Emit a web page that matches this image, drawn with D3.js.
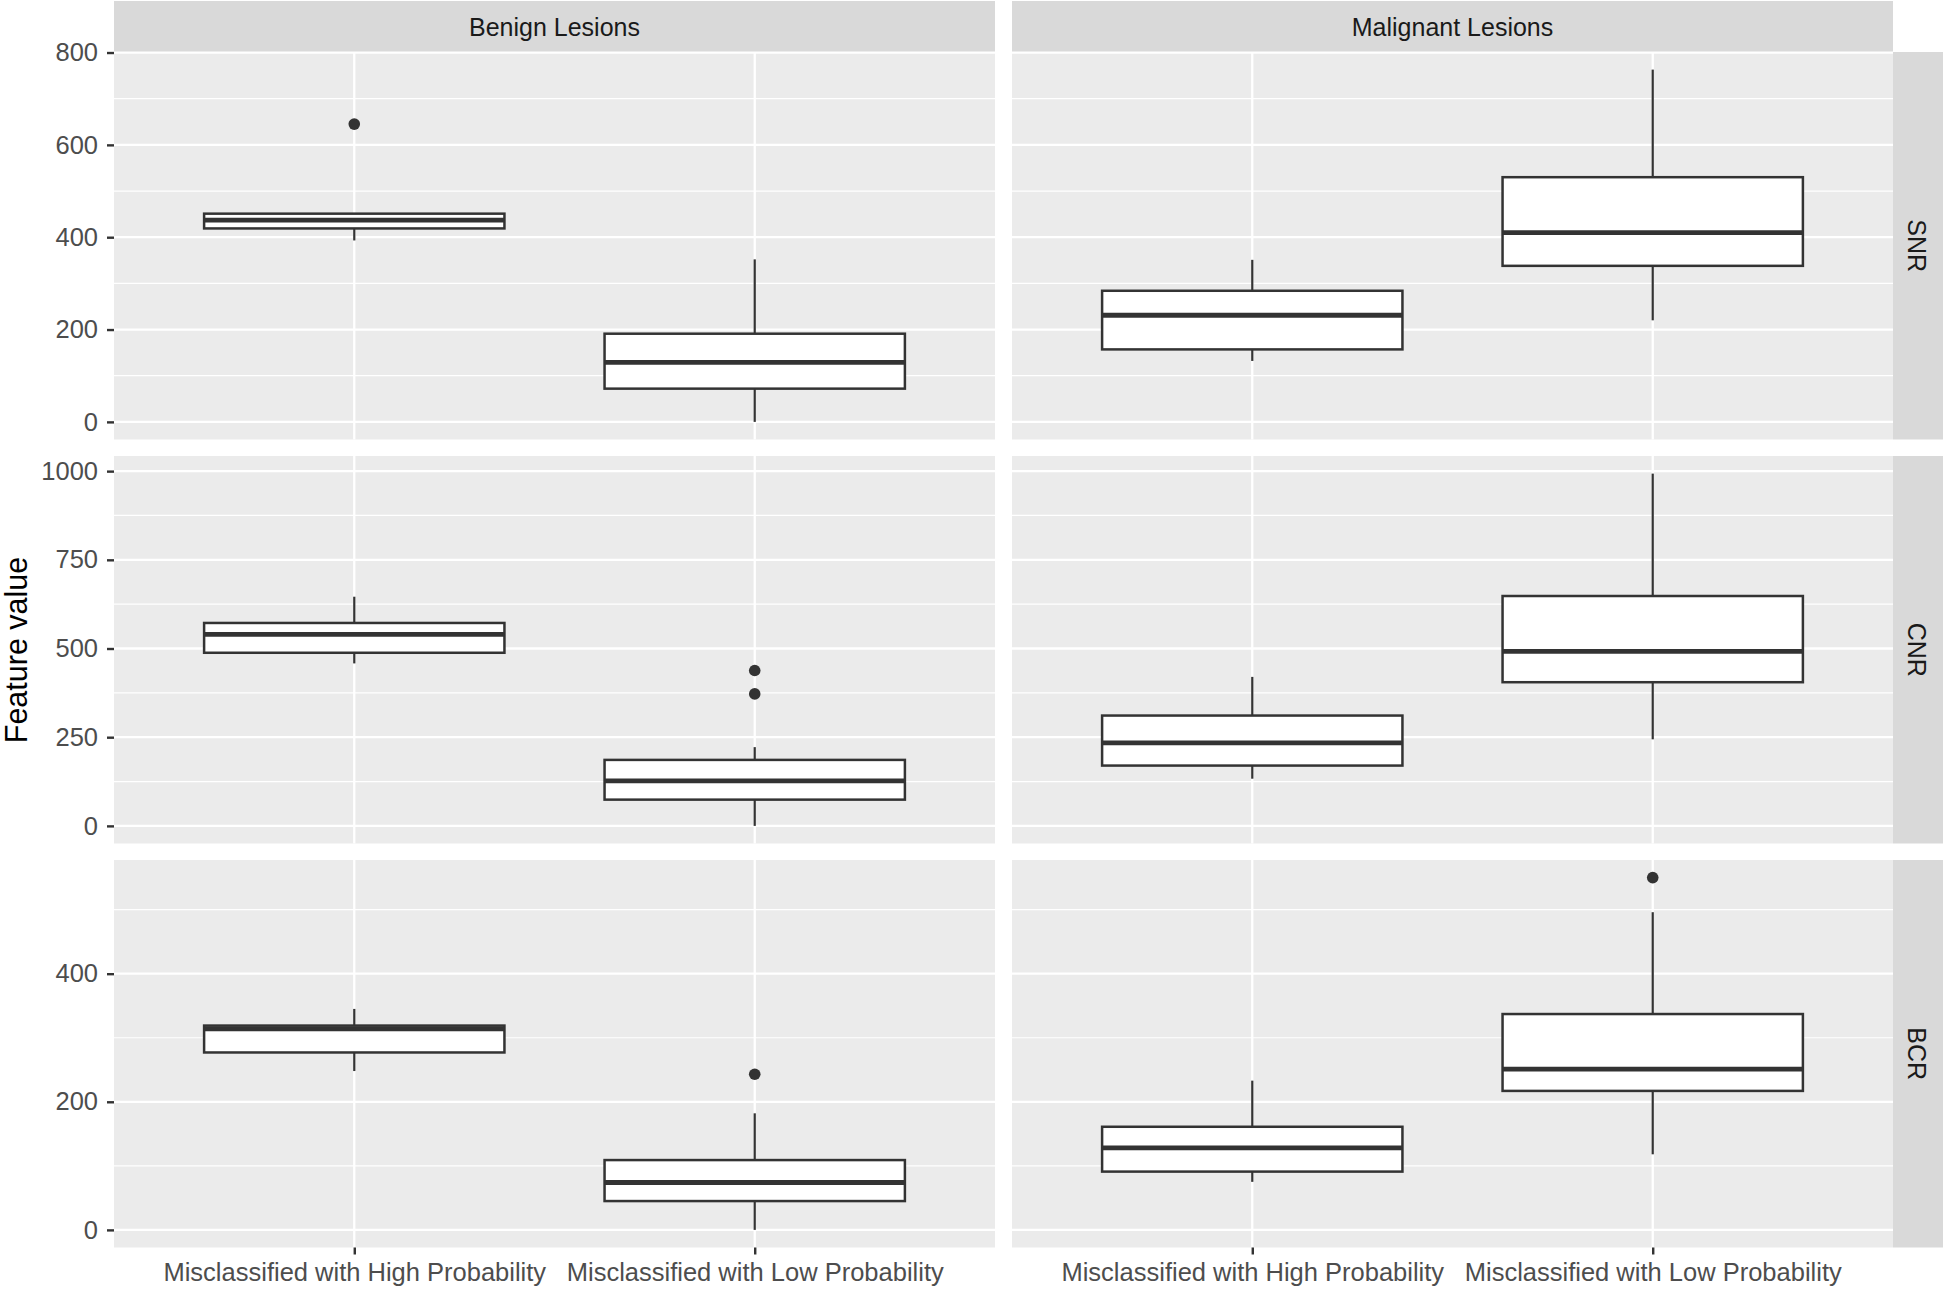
<!DOCTYPE html>
<html lang="en">
<head>
    <meta charset="UTF-8">
    <title>Feature value boxplots</title>
    <script src="https://d3js.org/d3.v7.min.js"></script>
    <style>
        body {
            margin: 0;
            background: #ffffff;
            font-family: "Liberation Sans", Arial, sans-serif;
        }
        .grid-major { stroke: #ffffff; stroke-width: 2.3; }
        .grid-minor { stroke: #ffffff; stroke-width: 1.2; }
        .axis path { display: none; }
        .axis line { stroke: #333333; stroke-width: 2.4; }
        .axis text { fill: #4d4d4d; font-size: 25.5px; font-family: "Liberation Sans", Arial, sans-serif; }
        .strip { fill: #d9d9d9; }
        .strip-text { fill: #1a1a1a; font-size: 25px; }
    </style>
</head>
<body>
    <div id="chart"></div>

    <script>
        // facets
        const columns = ["Benign Lesions", "Malignant Lesions"];
        const features = ["SNR", "CNR", "BCR"];
        const groups = ["Misclassified with High Probability", "Misclassified with Low Probability"];

        // [lower whisker, q1, median, q3, upper whisker]
        // order: benign-high, benign-low, malignant-high, malignant-low
        const snrBox = [
            [393, 419, 437, 451, 451],
            [0, 72, 129, 191, 352],
            [132, 157, 231, 284, 351],
            [220, 338, 410, 530, 763]
        ];
        const snrOutliers = [[645], [], [], []];

        const cnrBox = [
            [458, 488, 540, 572, 646],
            [0, 74, 127, 186, 222],
            [133, 170, 234, 311, 420],
            [244, 405, 492, 648, 993]
        ];
        const cnrOutliers = [[], [438, 372], [], []];

        const bcrBox = [
            [248, 277, 314, 319, 345],
            [0, 45, 74, 109, 182],
            [75, 91, 128, 161, 233],
            [118, 217, 251, 337, 496]
        ];
        const bcrOutliers = [[], [243], [], [550]];

        const boxes = [snrBox, cnrBox, bcrBox];
        const outliers = [snrOutliers, cnrOutliers, bcrOutliers];
        const yTicks = [[0, 200, 400, 600, 800], [0, 250, 500, 750, 1000], [0, 200, 400]];

        const width = 1944, height = 1290;
        const panelX = [114, 1012];
        const panelW = 881;
        const panelTop = 52, panelH = 387.5, rowGap = 16.5;
        const stripH = 51, stripW = 50;

        const svg = d3.select("#chart").append("svg")
            .attr("width", width)
            .attr("height", height);

        // y axis title
        svg.append("text")
            .attr("transform", "translate(27,650) rotate(-90)")
            .attr("text-anchor", "middle")
            .style("font-size", "30.5px")
            .style("fill", "#000")
            .text("Feature value");

        // column strips
        columns.forEach((c, ci) => {
            svg.append("rect").attr("class", "strip")
                .attr("x", panelX[ci]).attr("y", 1)
                .attr("width", panelW).attr("height", stripH);
            svg.append("text").attr("class", "strip-text")
                .attr("x", panelX[ci] + panelW / 2).attr("y", 36)
                .attr("text-anchor", "middle")
                .text(c);
        });

        features.forEach((f, ri) => {
            const top = panelTop + ri * (panelH + rowGap);
            const bottom = top + panelH;

            // free y scale per row, ggplot-like 5% expansion
            const vals = [];
            boxes[ri].forEach(b => vals.push(...b));
            outliers[ri].forEach(o => vals.push(...o));
            const lo = d3.min(vals), hi = d3.max(vals);
            const pad = (hi - lo) * 0.05;
            const y = d3.scaleLinear().domain([lo - pad, hi + pad]).range([bottom, top]);

            const ticks = yTicks[ri];
            const minor = ticks.map(t => t + (ticks[1] - ticks[0]) / 2)
                .filter(t => y(t) > top && y(t) < bottom);
            const step = ticks[1] - ticks[0];
            if (y(ticks[0] - step / 2) < bottom) minor.push(ticks[0] - step / 2);

            // row strip
            svg.append("rect").attr("class", "strip")
                .attr("x", panelX[1] + panelW).attr("y", top)
                .attr("width", stripW).attr("height", panelH);
            svg.append("text").attr("class", "strip-text")
                .attr("transform", `translate(${panelX[1] + panelW + 24},${top + panelH / 2}) rotate(90)`)
                .attr("text-anchor", "middle")
                .attr("dy", "0.35em")
                .text(f);

            columns.forEach((c, ci) => {
                const x = d3.scalePoint()
                    .domain(groups)
                    .range([panelX[ci], panelX[ci] + panelW])
                    .padding(0.6);
                const boxW = x.step() * 0.75;

                const g = svg.append("g");
                g.append("rect")
                    .attr("x", panelX[ci]).attr("y", top)
                    .attr("width", panelW).attr("height", panelH)
                    .attr("fill", "#ebebeb");

                g.selectAll(".grid-minor").data(minor).enter().append("line")
                    .attr("class", "grid-minor")
                    .attr("x1", panelX[ci]).attr("x2", panelX[ci] + panelW)
                    .attr("y1", d => y(d)).attr("y2", d => y(d));
                g.selectAll(".grid-major").data(ticks).enter().append("line")
                    .attr("class", "grid-major")
                    .attr("x1", panelX[ci]).attr("x2", panelX[ci] + panelW)
                    .attr("y1", d => y(d)).attr("y2", d => y(d));
                g.selectAll(".grid-v").data(groups).enter().append("line")
                    .attr("class", "grid-major")
                    .attr("x1", d => x(d)).attr("x2", d => x(d))
                    .attr("y1", top).attr("y2", bottom);

                groups.forEach((grp, gi) => {
                    const b = boxes[ri][ci * 2 + gi];
                    const cx = x(grp);
                    // whiskers
                    g.append("line")
                        .attr("x1", cx).attr("x2", cx)
                        .attr("y1", y(b[0])).attr("y2", y(b[1]))
                        .attr("stroke", "#333").attr("stroke-width", 2.2);
                    g.append("line")
                        .attr("x1", cx).attr("x2", cx)
                        .attr("y1", y(b[3])).attr("y2", y(b[4]))
                        .attr("stroke", "#333").attr("stroke-width", 2.2);
                    // box
                    g.append("rect")
                        .attr("x", cx - boxW / 2).attr("y", y(b[3]))
                        .attr("width", boxW).attr("height", y(b[1]) - y(b[3]))
                        .attr("fill", "#fff").attr("stroke", "#333").attr("stroke-width", 2.5);
                    // median
                    g.append("line")
                        .attr("x1", cx - boxW / 2).attr("x2", cx + boxW / 2)
                        .attr("y1", y(b[2])).attr("y2", y(b[2]))
                        .attr("stroke", "#333").attr("stroke-width", 4.8);
                    // outliers
                    g.selectAll(null).data(outliers[ri][ci * 2 + gi]).enter().append("circle")
                        .attr("cx", cx).attr("cy", d => y(d)).attr("r", 5.8)
                        .attr("fill", "#333");
                });

                if (ci === 0) {
                    svg.append("g").attr("class", "axis")
                        .attr("transform", `translate(${panelX[0]},0)`)
                        .call(d3.axisLeft(y).tickValues(ticks).tickSize(7).tickPadding(9).tickFormat(d3.format("d")));
                }
                if (ri === features.length - 1) {
                    svg.append("g").attr("class", "axis")
                        .attr("transform", `translate(0,${bottom})`)
                        .call(d3.axisBottom(x).tickSize(7).tickPadding(8.5));
                }
            });
        });
    </script>
</body>
</html>
